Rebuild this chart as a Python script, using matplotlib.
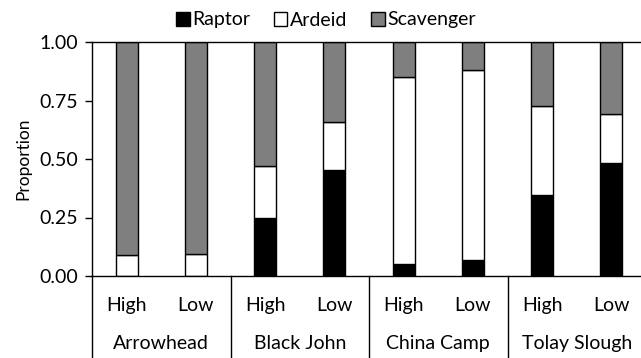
import matplotlib
matplotlib.use("Agg")
import matplotlib.pyplot as plt
import numpy as np

plt.rcParams['font.family'] = ['Lato', 'DejaVu Sans']

sites = ["Arrowhead", "Black John", "China Camp", "Tolay Slough"]
levels = ["High", "Low"]
raptor = [0.0, 0.0, 0.25, 0.455, 0.053, 0.07, 0.346, 0.483]
ardeid = [0.088, 0.093, 0.22, 0.202, 0.797, 0.809, 0.38, 0.209]
scavenger = [1 - r - a for r, a in zip(raptor, ardeid)]

fig = plt.figure(figsize=(6.41, 3.58), dpi=100)
ax = fig.add_axes([92 / 641, 1 - 276 / 358, 554 / 641, 234 / 358])

x = np.arange(len(raptor))
w = 0.32
kw = dict(width=w, edgecolor='black', linewidth=1.0)
ax.bar(x, raptor, color='black', label='Raptor', **kw)
ax.bar(x, ardeid, bottom=raptor, color='white', label='Ardeid', **kw)
bottom2 = [r + a for r, a in zip(raptor, ardeid)]
ax.bar(x, scavenger, bottom=bottom2, color='#7f7f7f', label='Scavenger', **kw)

fs = 14
ax.set_xlim(-0.5, len(raptor) - 0.5)
ax.set_ylim(0, 1)
ax.set_yticks([0, 0.25, 0.5, 0.75, 1.0])
ax.set_yticklabels(["0.00", "0.25", "0.50", "0.75", "1.00"], fontsize=fs)
ax.tick_params(axis='y', length=5, width=1, pad=5)
ax.set_ylabel("Proportion", fontsize=12.5, labelpad=6)

ax.set_xticks(x)
ax.set_xticklabels(levels * len(sites), fontsize=fs)
ax.tick_params(axis='x', length=0, pad=15)

for s in ['top', 'bottom', 'left']:
    ax.spines[s].set_linewidth(1.0)
ax.spines['right'].set_visible(False)

# group dividers and site names below the level labels
for i in range(len(sites) + 1):
    ax.plot([i * 2 - 0.5] * 2, [0, -0.36], color='black', lw=1.0,
            clip_on=False)
for i, s in enumerate(sites):
    ax.text(i * 2 + 0.5, -0.29, s, ha='center', va='center', fontsize=fs,
            clip_on=False)

leg = ax.legend(loc='center', ncol=3, frameon=False, fontsize=fs,
                handlelength=0.7, handleheight=0.7, handletextpad=0.15,
                columnspacing=1.2, borderaxespad=0.0)
leg.set_bbox_to_anchor((326 / 641, 1 - 20 / 358), transform=fig.transFigure)

fig.savefig("out.png", dpi=100)
